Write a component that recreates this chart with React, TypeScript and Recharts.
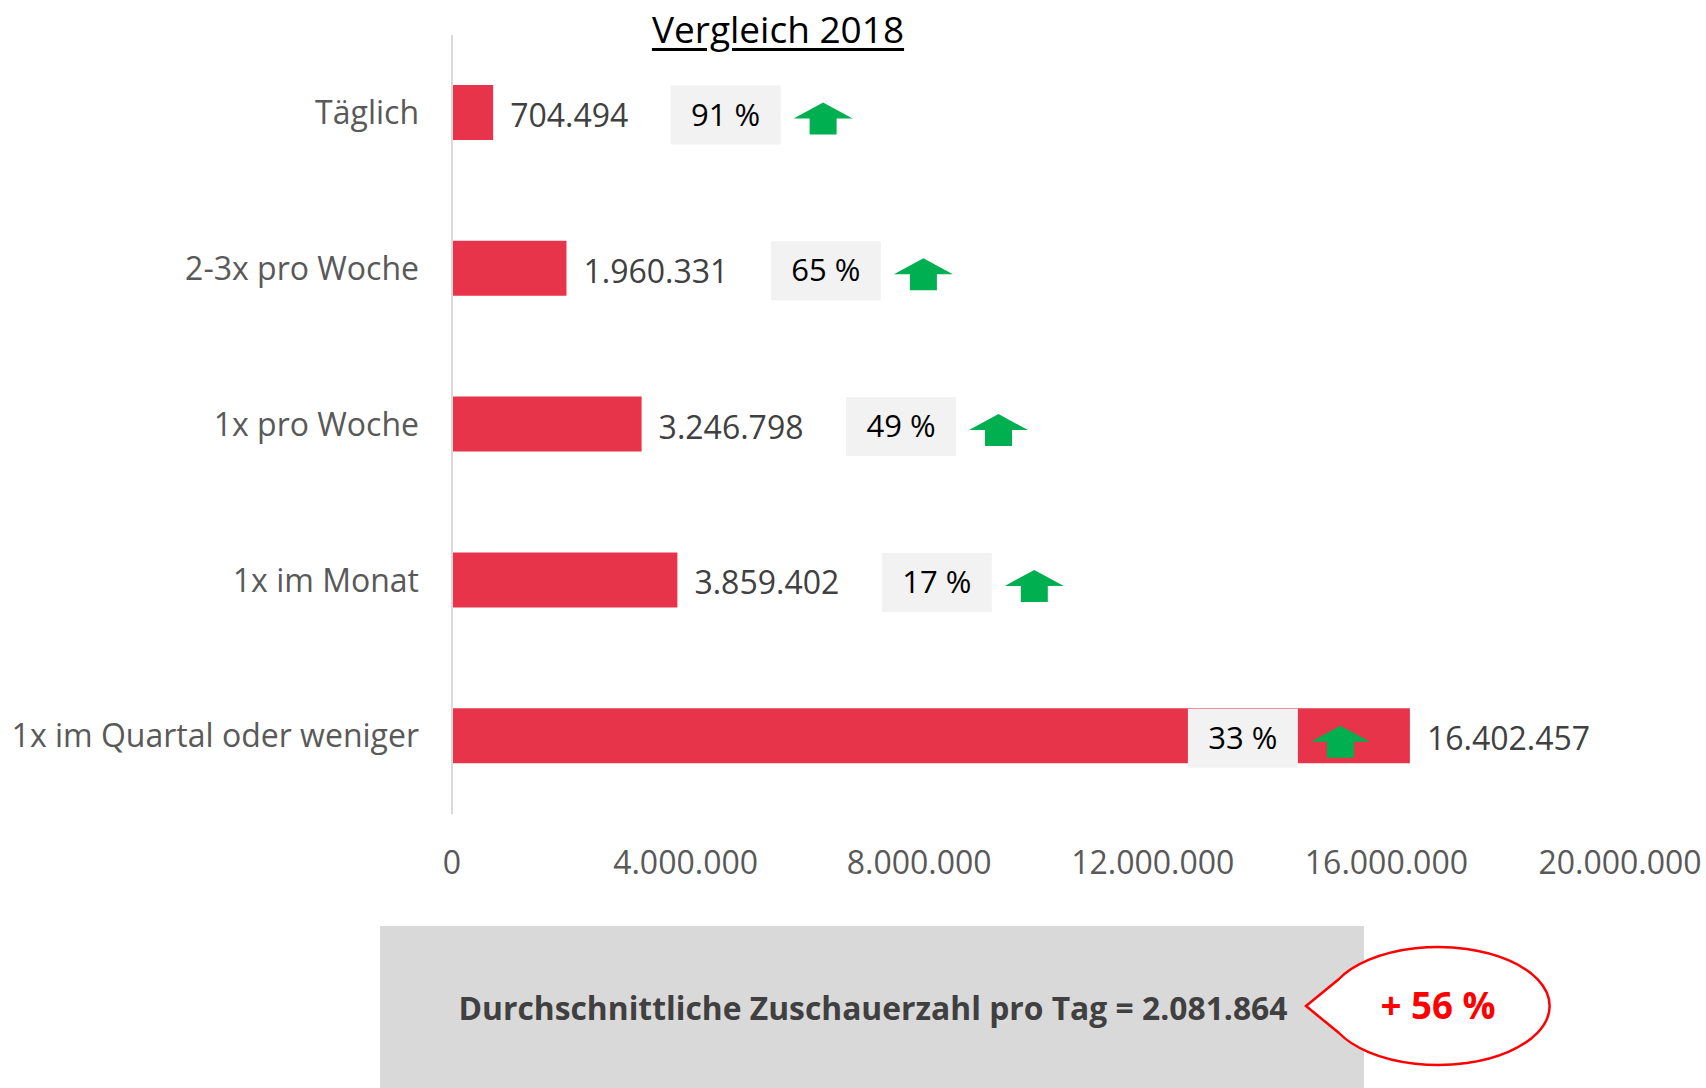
import React from 'react';
import { BarChart, Bar, XAxis, YAxis, LabelList } from 'recharts';

const categories = ['Täglich', '2-3x pro Woche', '1x pro Woche', '1x im Monat', '1x im Quartal oder weniger'];
const viewers = [704494, 1960331, 3246798, 3859402, 16402457];
const changePct = [91, 65, 49, 17, 33];
const xTicks = [0, 4000000, 8000000, 12000000, 16000000, 20000000];
const avgPerDay = 2081864;
const avgChange = 56;

const data = categories.map((name, i) => ({ name, value: viewers[i] }));

const FONT = '"Open Sans", "Noto Sans", sans-serif';

// 1234567 -> 1.234.567
const fmt = (v: number) => String(Math.round(v)).replace(/\B(?=(\d{3})+(?!\d))/g, '.');

// rough width of a number label in Open Sans
const textWidth = (s: string, size: number) =>
  s.split('').reduce((w, c) => w + (c === '.' ? 0.27 : 0.572) * size, 0);

const BarLabel = (props: any) => {
  const { x, y, width, height, index } = props;
  const value = viewers[index];
  const pct = changePct[index];
  const end = x + width;
  const cy = y + height / 2;
  const label = fmt(value);
  const labelX = end + 17;
  const inside = width > 600;
  const boxW = 110;
  const boxX = inside ? end - 222 : labelX + textWidth(label, 32) + 42;
  const ax = boxX + boxW + 13;
  const top = cy - 10;
  const base = cy + 6;
  const bottom = cy + 22;
  const arrow = [
    [ax, base], [ax + 29.5, top], [ax + 59, base], [ax + 43, base],
    [ax + 43, bottom], [ax + 16, bottom], [ax + 16, base],
  ].map(p => p.join(',')).join(' ');

  return (
    <g>
      <text x={labelX} y={cy + 2} fill="#404040" fontSize={32} fontFamily={FONT} dominantBaseline="central">
        {label}
      </text>
      <rect x={boxX} y={cy - 27} width={boxW} height={59} fill="#f2f2f2" />
      <text x={boxX + boxW / 2} y={cy + 1} fill="#000" fontSize={31} fontFamily={FONT}
        textAnchor="middle" dominantBaseline="central">
        {`${pct} %`}
      </text>
      <polygon points={arrow} fill="#00b050" />
    </g>
  );
};

export default function App() {
  return (
    <div style={{ position: 'absolute', left: 0, top: 0, width: 1706, height: 1088, background: '#fff', fontFamily: FONT }}>
      <div style={{
        position: 'absolute', left: 0, width: 1556, top: 3, textAlign: 'center',
        fontSize: 37, color: '#000', textDecoration: 'underline', textUnderlineOffset: 5,
      }}>
        Vergleich 2018
      </div>
      <BarChart
        width={1706}
        height={1088}
        data={data}
        layout="vertical"
        margin={{ top: 35, right: 86, left: 0, bottom: 214 }}
        barSize={55}
      >
        <XAxis
          type="number"
          domain={[0, 20000000]}
          ticks={xTicks}
          interval={0}
          tickFormatter={fmt}
          axisLine={false}
          tickLine={false}
          tickMargin={31}
          height={60}
          tick={{ fontSize: 32, fill: '#595959', fontFamily: FONT }}
        />
        <YAxis
          type="category"
          dataKey="name"
          width={452}
          axisLine={{ stroke: '#d9d9d9', strokeWidth: 2 }}
          tickLine={false}
          tickMargin={27}
          tick={{ fontSize: 32, fill: '#595959', fontFamily: FONT }}
        />
        <Bar dataKey="value" fill="#e8344a" isAnimationActive={false}>
          <LabelList dataKey="value" content={BarLabel} />
        </Bar>
      </BarChart>
      <svg width={1706} height={1088} style={{ position: 'absolute', left: 0, top: 0, pointerEvents: 'none' }}>
        <rect x={380} y={926} width={984} height={162} fill="#d9d9d9" />
        <text x={873} y={1020} fill="#404040" fontSize={33} fontWeight="bold" fontFamily={FONT}
          textAnchor="middle" textLength={829} lengthAdjust="spacingAndGlyphs">
          {`Durchschnittliche Zuschauerzahl pro Tag = ${fmt(avgPerDay)}`}
        </text>
        <path d="M 1339 979 A 111.5 59 0 1 1 1339 1033 L 1306 1006 Z" fill="#fff" stroke="#ff0000" strokeWidth={2.5} />
        <text x={1438} y={1019} fill="#ff0000" fontSize={38} fontWeight="bold" fontFamily={FONT}
          textAnchor="middle" textLength={115} lengthAdjust="spacingAndGlyphs">
          {`+ ${avgChange} %`}
        </text>
      </svg>
    </div>
  );
}
